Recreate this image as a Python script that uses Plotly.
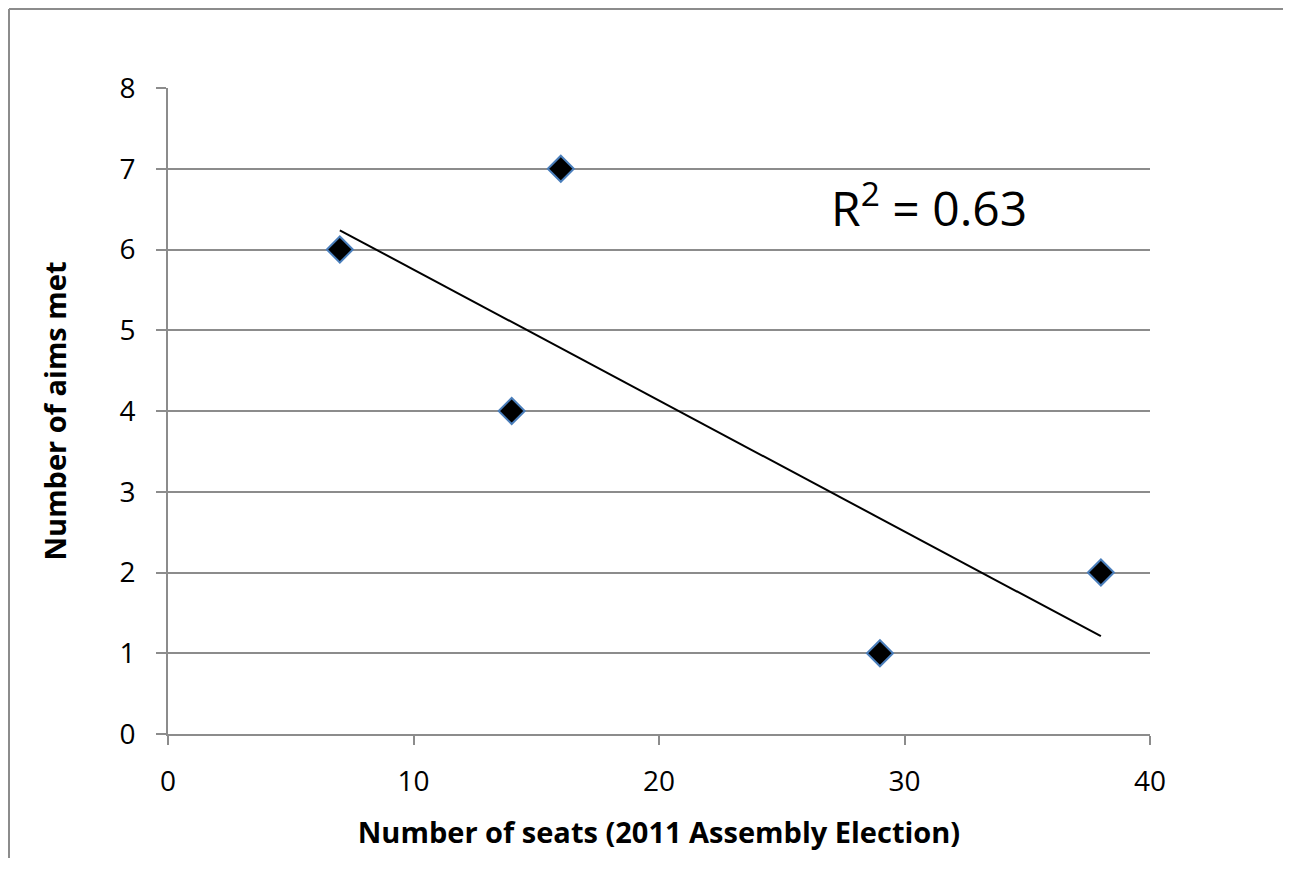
import numpy as np
import plotly.graph_objects as go

seats = [7, 14, 16, 29, 38]
aims_met = [6, 4, 7, 1, 2]
x_ticks = [0, 10, 20, 30, 40]
y_ticks = [0, 1, 2, 3, 4, 5, 6, 7, 8]

xs = np.array(seats, dtype=float)
ys = np.array(aims_met, dtype=float)
slope, intercept = np.polyfit(xs, ys, 1)
r2 = np.corrcoef(xs, ys)[0, 1] ** 2
trend_x = [xs.min(), xs.max()]
trend_y = [slope * v + intercept for v in trend_x]

# page has an 8px body margin, so figure px = page px - 8
W, H = 1291, 850
L, T = 160, 80
PW, PH = 982, 646
R = W - L - PW
B = H - T - PH

def px_x(p):
    return (p - L) / PW

def px_y(p):
    return (T + PH - p) / PH

fig = go.Figure()
fig.add_trace(go.Scatter(x=trend_x, y=trend_y, mode="lines",
                         line=dict(color="black", width=2), showlegend=False))
fig.add_trace(go.Scatter(x=seats, y=aims_met, mode="markers",
                         marker=dict(symbol="diamond", size=20, color="black",
                                     line=dict(color="#4a7ebb", width=2)),
                         showlegend=False))

font_fam = "Open Sans, Liberation Sans, sans-serif"
fig.update_layout(
    width=W, height=H,
    margin=dict(l=L, r=R, t=T, b=B),
    paper_bgcolor="white", plot_bgcolor="white",
    font=dict(family=font_fam, color="black"),
    xaxis=dict(range=[0, 40], tickvals=x_ticks, showgrid=False, zeroline=False,
               showline=True, linecolor="#8c8c8c", linewidth=2,
               ticks="outside", ticklen=9, tickwidth=2, tickcolor="#8c8c8c",
               tickfont=dict(size=28), ticklabelstandoff=12,
               title=dict(text="<b>Number of seats (2011 Assembly Election)</b>",
                          font=dict(size=29), standoff=25)),
    yaxis=dict(range=[0, 8], tickvals=y_ticks, showgrid=True, gridcolor="#8c8c8c",
               gridwidth=2, zeroline=False,
               showline=True, linecolor="#8c8c8c", linewidth=2,
               ticks="outside", ticklen=10, tickwidth=2, tickcolor="#8c8c8c",
               tickfont=dict(size=28), ticklabelstandoff=15,
               title=dict(text="<b>Number of aims met</b>",
                          font=dict(size=29), standoff=44)),
    annotations=[dict(x=31.0, y=6.55, xref="x", yref="y", xanchor="center", yanchor="middle",
                      text=f"R<sup>2</sup> = {r2:.2f}", showarrow=False,
                      font=dict(size=48, color="black", family=font_fam))],
    shapes=[
        dict(type="line", xref="paper", yref="paper", x0=px_x(1), x1=px_x(1),
             y0=px_y(H), y1=px_y(1), line=dict(color="#8c8c8c", width=2)),
        dict(type="line", xref="paper", yref="paper", x0=px_x(1), x1=px_x(W),
             y0=px_y(1), y1=px_y(1), line=dict(color="#8c8c8c", width=2)),
    ],
)

fig.write_html("out.html")
